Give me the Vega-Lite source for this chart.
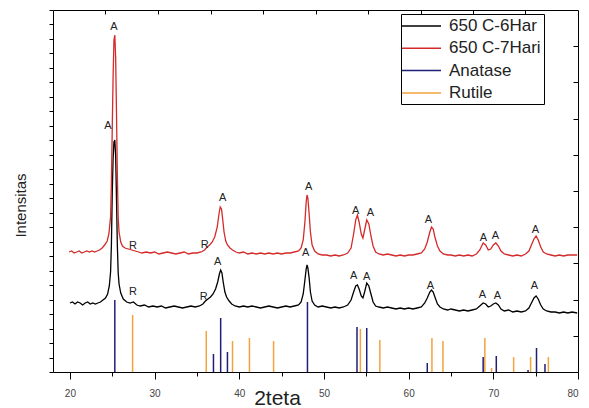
{
  "$schema": "https://vega.github.io/schema/vega-lite/v6.json",
  "width": 525,
  "height": 362,
  "autosize": {"type": "none"},
  "padding": {"left": 53, "top": 10, "right": 11, "bottom": 36},
  "background": "white",
  "view": {"stroke": null},
  "config": {
    "font": "Liberation Sans",
    "axis": {"domainColor": "#000", "tickColor": "#000", "grid": false, "labelFont": "Liberation Sans", "titleFont": "Liberation Sans"},
    "legend": {
      "orient": "none", "legendX": 348, "legendY": 4, "strokeColor": "#000", "fillColor": "white",
      "padding": 3, "symbolType": "M-1.375,0H3.5", "symbolSize": 256, "symbolStrokeWidth": 1.5,
      "labelFontSize": 17, "labelFont": "Liberation Sans", "labelOffset": 27, "rowPadding": 5.3, "labelColor": "#222", "title": null
    }
  },
  "datasets": {
    "sticks": [
      {"series": "Anatase", "x": 25.3, "h": 72},
      {"series": "Anatase", "x": 36.95, "h": 18},
      {"series": "Anatase", "x": 37.8, "h": 54},
      {"series": "Anatase", "x": 38.6, "h": 20},
      {"series": "Anatase", "x": 48.05, "h": 70},
      {"series": "Anatase", "x": 53.9, "h": 45},
      {"series": "Anatase", "x": 55.05, "h": 44},
      {"series": "Anatase", "x": 62.2, "h": 9},
      {"series": "Anatase", "x": 68.8, "h": 15},
      {"series": "Anatase", "x": 70.35, "h": 16},
      {"series": "Anatase", "x": 74.1, "h": 2},
      {"series": "Anatase", "x": 75.1, "h": 24},
      {"series": "Anatase", "x": 76.1, "h": 8},
      {"series": "Rutile", "x": 27.4, "h": 57},
      {"series": "Rutile", "x": 36.1, "h": 41},
      {"series": "Rutile", "x": 39.2, "h": 31},
      {"series": "Rutile", "x": 41.2, "h": 34},
      {"series": "Rutile", "x": 44.05, "h": 31},
      {"series": "Rutile", "x": 54.3, "h": 43},
      {"series": "Rutile", "x": 56.6, "h": 32},
      {"series": "Rutile", "x": 62.75, "h": 34},
      {"series": "Rutile", "x": 64.05, "h": 31},
      {"series": "Rutile", "x": 69.0, "h": 34},
      {"series": "Rutile", "x": 69.8, "h": 4},
      {"series": "Rutile", "x": 72.4, "h": 15},
      {"series": "Rutile", "x": 74.4, "h": 15},
      {"series": "Rutile", "x": 76.5, "h": 15}
    ],
    "curves": [
      {"series": "650 C-6Har", "x": 20.0, "v": 69}, {"series": "650 C-6Har", "x": 20.3, "v": 70}, {"series": "650 C-6Har", "x": 20.6, "v": 68}, {"series": "650 C-6Har", "x": 20.9, "v": 70}, {"series": "650 C-6Har", "x": 21.2, "v": 69}, {"series": "650 C-6Har", "x": 21.5, "v": 67}, {"series": "650 C-6Har", "x": 21.8, "v": 69}, {"series": "650 C-6Har", "x": 22.1, "v": 70}, {"series": "650 C-6Har", "x": 22.4, "v": 68}, {"series": "650 C-6Har", "x": 22.7, "v": 69}, {"series": "650 C-6Har", "x": 23.0, "v": 68}, {"series": "650 C-6Har", "x": 23.3, "v": 69}, {"series": "650 C-6Har", "x": 23.6, "v": 70}, {"series": "650 C-6Har", "x": 23.9, "v": 72}, {"series": "650 C-6Har", "x": 24.2, "v": 74}, {"series": "650 C-6Har", "x": 24.45, "v": 78}, {"series": "650 C-6Har", "x": 24.65, "v": 86}, {"series": "650 C-6Har", "x": 24.8, "v": 100}, {"series": "650 C-6Har", "x": 24.9, "v": 128}, {"series": "650 C-6Har", "x": 25.0, "v": 180}, {"series": "650 C-6Har", "x": 25.1, "v": 214}, {"series": "650 C-6Har", "x": 25.2, "v": 230}, {"series": "650 C-6Har", "x": 25.3, "v": 232}, {"series": "650 C-6Har", "x": 25.4, "v": 216}, {"series": "650 C-6Har", "x": 25.5, "v": 172}, {"series": "650 C-6Har", "x": 25.6, "v": 126}, {"series": "650 C-6Har", "x": 25.7, "v": 99}, {"series": "650 C-6Har", "x": 25.8, "v": 88}, {"series": "650 C-6Har", "x": 26.0, "v": 79}, {"series": "650 C-6Har", "x": 26.3, "v": 73}, {"series": "650 C-6Har", "x": 26.7, "v": 70}, {"series": "650 C-6Har", "x": 27.1, "v": 69}, {"series": "650 C-6Har", "x": 27.5, "v": 70}, {"series": "650 C-6Har", "x": 27.9, "v": 67}, {"series": "650 C-6Har", "x": 28.3, "v": 66}, {"series": "650 C-6Har", "x": 28.8, "v": 67}, {"series": "650 C-6Har", "x": 29.3, "v": 65}, {"series": "650 C-6Har", "x": 29.8, "v": 66}, {"series": "650 C-6Har", "x": 30.3, "v": 65}, {"series": "650 C-6Har", "x": 30.8, "v": 66}, {"series": "650 C-6Har", "x": 31.3, "v": 64}, {"series": "650 C-6Har", "x": 31.8, "v": 65}, {"series": "650 C-6Har", "x": 32.3, "v": 66}, {"series": "650 C-6Har", "x": 32.8, "v": 65}, {"series": "650 C-6Har", "x": 33.3, "v": 64}, {"series": "650 C-6Har", "x": 33.8, "v": 65}, {"series": "650 C-6Har", "x": 34.3, "v": 66}, {"series": "650 C-6Har", "x": 34.8, "v": 65}, {"series": "650 C-6Har", "x": 35.3, "v": 66}, {"series": "650 C-6Har", "x": 35.7, "v": 68}, {"series": "650 C-6Har", "x": 36.0, "v": 71}, {"series": "650 C-6Har", "x": 36.3, "v": 73}, {"series": "650 C-6Har", "x": 36.6, "v": 75}, {"series": "650 C-6Har", "x": 36.9, "v": 78}, {"series": "650 C-6Har", "x": 37.2, "v": 83}, {"series": "650 C-6Har", "x": 37.45, "v": 90}, {"series": "650 C-6Har", "x": 37.65, "v": 98}, {"series": "650 C-6Har", "x": 37.8, "v": 102}, {"series": "650 C-6Har", "x": 37.95, "v": 99}, {"series": "650 C-6Har", "x": 38.1, "v": 90}, {"series": "650 C-6Har", "x": 38.3, "v": 80}, {"series": "650 C-6Har", "x": 38.5, "v": 75}, {"series": "650 C-6Har", "x": 38.8, "v": 71}, {"series": "650 C-6Har", "x": 39.1, "v": 68}, {"series": "650 C-6Har", "x": 39.5, "v": 66}, {"series": "650 C-6Har", "x": 40.0, "v": 65}, {"series": "650 C-6Har", "x": 40.5, "v": 66}, {"series": "650 C-6Har", "x": 41.0, "v": 65}, {"series": "650 C-6Har", "x": 41.5, "v": 66}, {"series": "650 C-6Har", "x": 42.0, "v": 65}, {"series": "650 C-6Har", "x": 42.5, "v": 64}, {"series": "650 C-6Har", "x": 43.0, "v": 65}, {"series": "650 C-6Har", "x": 43.5, "v": 66}, {"series": "650 C-6Har", "x": 44.0, "v": 65}, {"series": "650 C-6Har", "x": 44.5, "v": 64}, {"series": "650 C-6Har", "x": 45.0, "v": 65}, {"series": "650 C-6Har", "x": 45.5, "v": 66}, {"series": "650 C-6Har", "x": 46.0, "v": 65}, {"series": "650 C-6Har", "x": 46.5, "v": 66}, {"series": "650 C-6Har", "x": 47.0, "v": 67}, {"series": "650 C-6Har", "x": 47.3, "v": 70}, {"series": "650 C-6Har", "x": 47.55, "v": 78}, {"series": "650 C-6Har", "x": 47.75, "v": 92}, {"series": "650 C-6Har", "x": 47.9, "v": 103}, {"series": "650 C-6Har", "x": 48.0, "v": 107}, {"series": "650 C-6Har", "x": 48.1, "v": 104}, {"series": "650 C-6Har", "x": 48.25, "v": 94}, {"series": "650 C-6Har", "x": 48.4, "v": 80}, {"series": "650 C-6Har", "x": 48.6, "v": 71}, {"series": "650 C-6Har", "x": 48.9, "v": 67}, {"series": "650 C-6Har", "x": 49.3, "v": 65}, {"series": "650 C-6Har", "x": 49.8, "v": 66}, {"series": "650 C-6Har", "x": 50.3, "v": 65}, {"series": "650 C-6Har", "x": 50.8, "v": 64}, {"series": "650 C-6Har", "x": 51.3, "v": 65}, {"series": "650 C-6Har", "x": 51.8, "v": 64}, {"series": "650 C-6Har", "x": 52.3, "v": 65}, {"series": "650 C-6Har", "x": 52.8, "v": 67}, {"series": "650 C-6Har", "x": 53.2, "v": 72}, {"series": "650 C-6Har", "x": 53.5, "v": 80}, {"series": "650 C-6Har", "x": 53.75, "v": 86}, {"series": "650 C-6Har", "x": 53.95, "v": 87}, {"series": "650 C-6Har", "x": 54.15, "v": 83}, {"series": "650 C-6Har", "x": 54.4, "v": 76}, {"series": "650 C-6Har", "x": 54.6, "v": 74}, {"series": "650 C-6Har", "x": 54.8, "v": 80}, {"series": "650 C-6Har", "x": 55.05, "v": 89}, {"series": "650 C-6Har", "x": 55.3, "v": 86}, {"series": "650 C-6Har", "x": 55.55, "v": 78}, {"series": "650 C-6Har", "x": 55.8, "v": 70}, {"series": "650 C-6Har", "x": 56.1, "v": 66}, {"series": "650 C-6Har", "x": 56.5, "v": 65}, {"series": "650 C-6Har", "x": 57.0, "v": 64}, {"series": "650 C-6Har", "x": 57.5, "v": 65}, {"series": "650 C-6Har", "x": 58.0, "v": 64}, {"series": "650 C-6Har", "x": 58.5, "v": 63}, {"series": "650 C-6Har", "x": 59.0, "v": 64}, {"series": "650 C-6Har", "x": 59.5, "v": 63}, {"series": "650 C-6Har", "x": 60.0, "v": 64}, {"series": "650 C-6Har", "x": 60.5, "v": 63}, {"series": "650 C-6Har", "x": 61.0, "v": 64}, {"series": "650 C-6Har", "x": 61.5, "v": 65}, {"series": "650 C-6Har", "x": 61.9, "v": 69}, {"series": "650 C-6Har", "x": 62.2, "v": 74}, {"series": "650 C-6Har", "x": 62.5, "v": 80}, {"series": "650 C-6Har", "x": 62.7, "v": 82}, {"series": "650 C-6Har", "x": 62.9, "v": 80}, {"series": "650 C-6Har", "x": 63.1, "v": 75}, {"series": "650 C-6Har", "x": 63.4, "v": 68}, {"series": "650 C-6Har", "x": 63.7, "v": 65}, {"series": "650 C-6Har", "x": 64.1, "v": 63}, {"series": "650 C-6Har", "x": 64.6, "v": 62}, {"series": "650 C-6Har", "x": 65.0, "v": 63}, {"series": "650 C-6Har", "x": 65.5, "v": 62}, {"series": "650 C-6Har", "x": 66.0, "v": 61}, {"series": "650 C-6Har", "x": 66.5, "v": 62}, {"series": "650 C-6Har", "x": 67.0, "v": 61}, {"series": "650 C-6Har", "x": 67.5, "v": 62}, {"series": "650 C-6Har", "x": 68.0, "v": 63}, {"series": "650 C-6Har", "x": 68.4, "v": 66}, {"series": "650 C-6Har", "x": 68.8, "v": 69}, {"series": "650 C-6Har", "x": 69.1, "v": 68}, {"series": "650 C-6Har", "x": 69.4, "v": 65}, {"series": "650 C-6Har", "x": 69.7, "v": 66}, {"series": "650 C-6Har", "x": 70.0, "v": 68}, {"series": "650 C-6Har", "x": 70.3, "v": 69}, {"series": "650 C-6Har", "x": 70.6, "v": 67}, {"series": "650 C-6Har", "x": 70.9, "v": 63}, {"series": "650 C-6Har", "x": 71.3, "v": 61}, {"series": "650 C-6Har", "x": 71.8, "v": 62}, {"series": "650 C-6Har", "x": 72.3, "v": 60}, {"series": "650 C-6Har", "x": 72.8, "v": 61}, {"series": "650 C-6Har", "x": 73.3, "v": 60}, {"series": "650 C-6Har", "x": 73.8, "v": 61}, {"series": "650 C-6Har", "x": 74.2, "v": 64}, {"series": "650 C-6Har", "x": 74.5, "v": 69}, {"series": "650 C-6Har", "x": 74.8, "v": 74}, {"series": "650 C-6Har", "x": 75.05, "v": 76}, {"series": "650 C-6Har", "x": 75.3, "v": 73}, {"series": "650 C-6Har", "x": 75.6, "v": 67}, {"series": "650 C-6Har", "x": 75.9, "v": 63}, {"series": "650 C-6Har", "x": 76.3, "v": 61}, {"series": "650 C-6Har", "x": 76.8, "v": 60}, {"series": "650 C-6Har", "x": 77.3, "v": 60}, {"series": "650 C-6Har", "x": 77.8, "v": 59}, {"series": "650 C-6Har", "x": 78.3, "v": 60}, {"series": "650 C-6Har", "x": 78.8, "v": 59}, {"series": "650 C-6Har", "x": 79.3, "v": 60}, {"series": "650 C-6Har", "x": 79.9, "v": 59},
      {"series": "650 C-7Hari", "x": 19.9, "v": 120}, {"series": "650 C-7Hari", "x": 20.2, "v": 121}, {"series": "650 C-7Hari", "x": 20.5, "v": 119}, {"series": "650 C-7Hari", "x": 20.8, "v": 120}, {"series": "650 C-7Hari", "x": 21.1, "v": 121}, {"series": "650 C-7Hari", "x": 21.4, "v": 119}, {"series": "650 C-7Hari", "x": 21.7, "v": 120}, {"series": "650 C-7Hari", "x": 22.0, "v": 121}, {"series": "650 C-7Hari", "x": 22.3, "v": 120}, {"series": "650 C-7Hari", "x": 22.6, "v": 121}, {"series": "650 C-7Hari", "x": 22.9, "v": 120}, {"series": "650 C-7Hari", "x": 23.2, "v": 121}, {"series": "650 C-7Hari", "x": 23.5, "v": 122}, {"series": "650 C-7Hari", "x": 23.8, "v": 124}, {"series": "650 C-7Hari", "x": 24.1, "v": 127}, {"series": "650 C-7Hari", "x": 24.4, "v": 131}, {"series": "650 C-7Hari", "x": 24.6, "v": 138}, {"series": "650 C-7Hari", "x": 24.8, "v": 155}, {"series": "650 C-7Hari", "x": 24.9, "v": 190}, {"series": "650 C-7Hari", "x": 25.0, "v": 245}, {"series": "650 C-7Hari", "x": 25.1, "v": 296}, {"series": "650 C-7Hari", "x": 25.2, "v": 332}, {"series": "650 C-7Hari", "x": 25.3, "v": 337}, {"series": "650 C-7Hari", "x": 25.4, "v": 314}, {"series": "650 C-7Hari", "x": 25.5, "v": 258}, {"series": "650 C-7Hari", "x": 25.6, "v": 196}, {"series": "650 C-7Hari", "x": 25.7, "v": 154}, {"series": "650 C-7Hari", "x": 25.8, "v": 140}, {"series": "650 C-7Hari", "x": 26.0, "v": 130}, {"series": "650 C-7Hari", "x": 26.2, "v": 126}, {"series": "650 C-7Hari", "x": 26.5, "v": 124}, {"series": "650 C-7Hari", "x": 26.9, "v": 123}, {"series": "650 C-7Hari", "x": 27.3, "v": 122}, {"series": "650 C-7Hari", "x": 27.7, "v": 121}, {"series": "650 C-7Hari", "x": 28.1, "v": 120}, {"series": "650 C-7Hari", "x": 28.5, "v": 119}, {"series": "650 C-7Hari", "x": 29.0, "v": 120}, {"series": "650 C-7Hari", "x": 29.5, "v": 119}, {"series": "650 C-7Hari", "x": 30.0, "v": 120}, {"series": "650 C-7Hari", "x": 30.5, "v": 118}, {"series": "650 C-7Hari", "x": 31.0, "v": 119}, {"series": "650 C-7Hari", "x": 31.5, "v": 120}, {"series": "650 C-7Hari", "x": 32.0, "v": 119}, {"series": "650 C-7Hari", "x": 32.5, "v": 118}, {"series": "650 C-7Hari", "x": 33.0, "v": 119}, {"series": "650 C-7Hari", "x": 33.5, "v": 120}, {"series": "650 C-7Hari", "x": 34.0, "v": 118}, {"series": "650 C-7Hari", "x": 34.5, "v": 119}, {"series": "650 C-7Hari", "x": 35.0, "v": 119}, {"series": "650 C-7Hari", "x": 35.5, "v": 120}, {"series": "650 C-7Hari", "x": 35.9, "v": 122}, {"series": "650 C-7Hari", "x": 36.2, "v": 125}, {"series": "650 C-7Hari", "x": 36.5, "v": 127}, {"series": "650 C-7Hari", "x": 36.8, "v": 130}, {"series": "650 C-7Hari", "x": 37.1, "v": 135}, {"series": "650 C-7Hari", "x": 37.4, "v": 145}, {"series": "650 C-7Hari", "x": 37.6, "v": 158}, {"series": "650 C-7Hari", "x": 37.75, "v": 165}, {"series": "650 C-7Hari", "x": 37.9, "v": 163}, {"series": "650 C-7Hari", "x": 38.05, "v": 152}, {"series": "650 C-7Hari", "x": 38.2, "v": 140}, {"series": "650 C-7Hari", "x": 38.4, "v": 131}, {"series": "650 C-7Hari", "x": 38.6, "v": 127}, {"series": "650 C-7Hari", "x": 38.9, "v": 124}, {"series": "650 C-7Hari", "x": 39.2, "v": 122}, {"series": "650 C-7Hari", "x": 39.6, "v": 120}, {"series": "650 C-7Hari", "x": 40.0, "v": 119}, {"series": "650 C-7Hari", "x": 40.5, "v": 120}, {"series": "650 C-7Hari", "x": 41.0, "v": 118}, {"series": "650 C-7Hari", "x": 41.5, "v": 119}, {"series": "650 C-7Hari", "x": 42.0, "v": 118}, {"series": "650 C-7Hari", "x": 42.5, "v": 119}, {"series": "650 C-7Hari", "x": 43.0, "v": 118}, {"series": "650 C-7Hari", "x": 43.5, "v": 119}, {"series": "650 C-7Hari", "x": 44.0, "v": 118}, {"series": "650 C-7Hari", "x": 44.5, "v": 119}, {"series": "650 C-7Hari", "x": 45.0, "v": 118}, {"series": "650 C-7Hari", "x": 45.5, "v": 119}, {"series": "650 C-7Hari", "x": 46.0, "v": 119}, {"series": "650 C-7Hari", "x": 46.5, "v": 120}, {"series": "650 C-7Hari", "x": 47.0, "v": 121}, {"series": "650 C-7Hari", "x": 47.3, "v": 124}, {"series": "650 C-7Hari", "x": 47.55, "v": 132}, {"series": "650 C-7Hari", "x": 47.75, "v": 150}, {"series": "650 C-7Hari", "x": 47.9, "v": 170}, {"series": "650 C-7Hari", "x": 48.0, "v": 177}, {"series": "650 C-7Hari", "x": 48.1, "v": 174}, {"series": "650 C-7Hari", "x": 48.25, "v": 158}, {"series": "650 C-7Hari", "x": 48.4, "v": 140}, {"series": "650 C-7Hari", "x": 48.6, "v": 127}, {"series": "650 C-7Hari", "x": 48.9, "v": 121}, {"series": "650 C-7Hari", "x": 49.3, "v": 118}, {"series": "650 C-7Hari", "x": 49.8, "v": 117}, {"series": "650 C-7Hari", "x": 50.3, "v": 117}, {"series": "650 C-7Hari", "x": 50.8, "v": 116}, {"series": "650 C-7Hari", "x": 51.3, "v": 117}, {"series": "650 C-7Hari", "x": 51.8, "v": 116}, {"series": "650 C-7Hari", "x": 52.3, "v": 117}, {"series": "650 C-7Hari", "x": 52.8, "v": 119}, {"series": "650 C-7Hari", "x": 53.2, "v": 124}, {"series": "650 C-7Hari", "x": 53.5, "v": 138}, {"series": "650 C-7Hari", "x": 53.75, "v": 152}, {"series": "650 C-7Hari", "x": 53.95, "v": 157}, {"series": "650 C-7Hari", "x": 54.15, "v": 150}, {"series": "650 C-7Hari", "x": 54.4, "v": 138}, {"series": "650 C-7Hari", "x": 54.6, "v": 134}, {"series": "650 C-7Hari", "x": 54.8, "v": 142}, {"series": "650 C-7Hari", "x": 55.05, "v": 152}, {"series": "650 C-7Hari", "x": 55.3, "v": 148}, {"series": "650 C-7Hari", "x": 55.55, "v": 136}, {"series": "650 C-7Hari", "x": 55.8, "v": 126}, {"series": "650 C-7Hari", "x": 56.1, "v": 120}, {"series": "650 C-7Hari", "x": 56.5, "v": 118}, {"series": "650 C-7Hari", "x": 57.0, "v": 117}, {"series": "650 C-7Hari", "x": 57.5, "v": 118}, {"series": "650 C-7Hari", "x": 58.0, "v": 117}, {"series": "650 C-7Hari", "x": 58.5, "v": 116}, {"series": "650 C-7Hari", "x": 59.0, "v": 117}, {"series": "650 C-7Hari", "x": 59.5, "v": 116}, {"series": "650 C-7Hari", "x": 60.0, "v": 117}, {"series": "650 C-7Hari", "x": 60.5, "v": 117}, {"series": "650 C-7Hari", "x": 61.0, "v": 118}, {"series": "650 C-7Hari", "x": 61.5, "v": 119}, {"series": "650 C-7Hari", "x": 61.9, "v": 123}, {"series": "650 C-7Hari", "x": 62.2, "v": 130}, {"series": "650 C-7Hari", "x": 62.5, "v": 140}, {"series": "650 C-7Hari", "x": 62.7, "v": 145}, {"series": "650 C-7Hari", "x": 62.9, "v": 143}, {"series": "650 C-7Hari", "x": 63.1, "v": 135}, {"series": "650 C-7Hari", "x": 63.4, "v": 126}, {"series": "650 C-7Hari", "x": 63.7, "v": 121}, {"series": "650 C-7Hari", "x": 64.1, "v": 118}, {"series": "650 C-7Hari", "x": 64.6, "v": 117}, {"series": "650 C-7Hari", "x": 65.0, "v": 117}, {"series": "650 C-7Hari", "x": 65.5, "v": 116}, {"series": "650 C-7Hari", "x": 66.0, "v": 117}, {"series": "650 C-7Hari", "x": 66.5, "v": 116}, {"series": "650 C-7Hari", "x": 67.0, "v": 117}, {"series": "650 C-7Hari", "x": 67.5, "v": 116}, {"series": "650 C-7Hari", "x": 68.0, "v": 118}, {"series": "650 C-7Hari", "x": 68.4, "v": 122}, {"series": "650 C-7Hari", "x": 68.8, "v": 129}, {"series": "650 C-7Hari", "x": 69.1, "v": 127}, {"series": "650 C-7Hari", "x": 69.4, "v": 122}, {"series": "650 C-7Hari", "x": 69.7, "v": 123}, {"series": "650 C-7Hari", "x": 70.0, "v": 127}, {"series": "650 C-7Hari", "x": 70.3, "v": 129}, {"series": "650 C-7Hari", "x": 70.6, "v": 126}, {"series": "650 C-7Hari", "x": 70.9, "v": 121}, {"series": "650 C-7Hari", "x": 71.3, "v": 118}, {"series": "650 C-7Hari", "x": 71.8, "v": 117}, {"series": "650 C-7Hari", "x": 72.3, "v": 116}, {"series": "650 C-7Hari", "x": 72.8, "v": 117}, {"series": "650 C-7Hari", "x": 73.3, "v": 116}, {"series": "650 C-7Hari", "x": 73.8, "v": 118}, {"series": "650 C-7Hari", "x": 74.2, "v": 121}, {"series": "650 C-7Hari", "x": 74.5, "v": 127}, {"series": "650 C-7Hari", "x": 74.8, "v": 133}, {"series": "650 C-7Hari", "x": 75.05, "v": 136}, {"series": "650 C-7Hari", "x": 75.3, "v": 132}, {"series": "650 C-7Hari", "x": 75.6, "v": 125}, {"series": "650 C-7Hari", "x": 75.9, "v": 120}, {"series": "650 C-7Hari", "x": 76.3, "v": 118}, {"series": "650 C-7Hari", "x": 76.8, "v": 117}, {"series": "650 C-7Hari", "x": 77.3, "v": 116}, {"series": "650 C-7Hari", "x": 77.8, "v": 117}, {"series": "650 C-7Hari", "x": 78.3, "v": 116}, {"series": "650 C-7Hari", "x": 78.8, "v": 117}, {"series": "650 C-7Hari", "x": 79.3, "v": 117}, {"series": "650 C-7Hari", "x": 79.9, "v": 117}
    ],
    "labels": [
      {"x": 25.19, "y": 345, "t": "A"}, {"x": 38.05, "y": 174, "t": "A"}, {"x": 48.19, "y": 185, "t": "A"},
      {"x": 53.73, "y": 161, "t": "A"}, {"x": 55.5, "y": 159, "t": "A"}, {"x": 62.34, "y": 152, "t": "A"},
      {"x": 68.83, "y": 134, "t": "A"}, {"x": 70.24, "y": 136, "t": "A"}, {"x": 74.96, "y": 142, "t": "A"},
      {"x": 27.43, "y": 126, "t": "R"}, {"x": 35.92, "y": 127, "t": "R"},
      {"x": 24.49, "y": 246, "t": "A"}, {"x": 37.46, "y": 110, "t": "A"}, {"x": 47.83, "y": 119, "t": "A"},
      {"x": 53.5, "y": 96, "t": "A"}, {"x": 55.03, "y": 95, "t": "A"}, {"x": 62.58, "y": 86, "t": "A"},
      {"x": 68.71, "y": 77, "t": "A"}, {"x": 70.48, "y": 76, "t": "A"}, {"x": 74.84, "y": 86, "t": "A"},
      {"x": 27.43, "y": 80, "t": "R"}, {"x": 35.8, "y": 75, "t": "R"}
    ]
  },
  "resolve": {"axis": {"x": "independent", "y": "independent"}},
  "layer": [
    {
      "data": {"name": "sticks"},
      "mark": {"type": "rule", "strokeWidth": 1.5},
      "encoding": {
        "x": {"field": "x", "type": "quantitative",
          "scale": {"domain": [18, 80], "nice": false, "zero": false},
          "axis": {"orient": "bottom", "values": [20, 25, 30, 35, 40, 45, 50, 55, 60, 65, 70, 75, 80],
            "labelExpr": "datum.value % 10 == 0 ? datum.label : ''",
            "tickSize": {"condition": {"test": "datum.value % 10 == 0", "value": 7}, "value": 4},
            "labelPadding": 9, "labelFontSize": 10, "labelColor": "#444",
            "title": "2teta", "titleFontSize": 21, "titleFontWeight": "normal", "titleColor": "#222",
            "titleX": 224, "titleY": 15, "titleBaseline": "top"}},
        "y": {"field": "h", "type": "quantitative",
          "scale": {"domain": [0, 362], "nice": false, "zero": false},
          "axis": {"orient": "left", "values": [0, 14.48, 28.96, 43.44, 57.92, 72.4, 86.88, 101.36, 115.84, 130.32, 144.8, 159.28, 173.76, 188.24, 202.72, 217.2, 231.68, 246.16, 260.64, 275.12, 289.6, 304.08, 318.56, 333.04, 347.52, 362],
            "labels": false, "tickSize": 4,
            "title": "Intensitas", "titleFontSize": 15, "titleFontWeight": "normal", "titleColor": "#222",
            "titleX": -33, "titleY": 195, "titleAngle": -90, "titleBaseline": "middle", "titleAlign": "center"}},
        "y2": {"datum": 0},
        "color": {"field": "series", "type": "nominal",
          "scale": {"domain": ["650 C-6Har", "650 C-7Hari", "Anatase", "Rutile"], "range": ["#000000", "#d42a2a", "#1f1f77", "#f2a33e"]}}
      }
    },
    {
      "data": {"name": "curves"},
      "mark": {"type": "line", "strokeWidth": 1.3},
      "encoding": {
        "x": {"field": "x", "type": "quantitative",
          "axis": {"orient": "top", "values": [24.2, 30.4, 36.6, 42.8, 49.0, 55.2, 61.4, 67.6, 73.8], "labels": false, "tickSize": -4, "title": null}},
        "y": {"field": "v", "type": "quantitative",
          "axis": {"orient": "right", "values": [36.2, 72.4, 108.6, 144.8, 181, 217.2, 253.4, 289.6, 325.8], "labels": false, "tickSize": -5, "title": null}},
        "color": {"field": "series", "type": "nominal"}
      }
    },
    {
      "data": {"name": "labels"},
      "mark": {"type": "text", "fontSize": 11, "font": "Liberation Sans", "color": "#222", "align": "center", "baseline": "middle"},
      "encoding": {
        "x": {"field": "x", "type": "quantitative", "axis": null},
        "y": {"field": "y", "type": "quantitative", "axis": null},
        "text": {"field": "t"}
      }
    }
  ]
}
